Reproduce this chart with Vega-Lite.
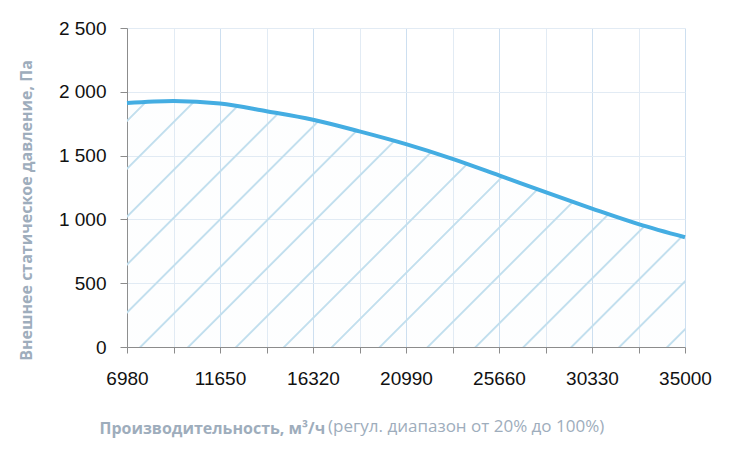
{
  "$schema": "https://vega.github.io/schema/vega-lite/v6.json",
  "autosize": {"type": "none"},
  "padding": {"left": 127, "top": 28, "right": 45, "bottom": 109},
  "width": 558,
  "height": 319,
  "background": "white",
  "config": {"view": {"stroke": null}, "font": "Liberation Sans"},
  "title": {
    "text": "(регул. диапазон от 20% до 100%)",
    "orient": "bottom",
    "anchor": "start",
    "frame": "group",
    "dx": 201,
    "offset": -4,
    "baseline": "alphabetic",
    "font": "Open Sans",
    "fontSize": 17,
    "fontWeight": "normal",
    "color": "#9eadbc"
  },
  "data": {
    "values": [
      {"flow": 6980, "pressure": 1912},
      {"flow": 9315, "pressure": 1928},
      {"flow": 11650, "pressure": 1908},
      {"flow": 13985, "pressure": 1848},
      {"flow": 16320, "pressure": 1781},
      {"flow": 18655, "pressure": 1690},
      {"flow": 20990, "pressure": 1590},
      {"flow": 23325, "pressure": 1475},
      {"flow": 25660, "pressure": 1345},
      {"flow": 27995, "pressure": 1213},
      {"flow": 30330, "pressure": 1085},
      {"flow": 32665, "pressure": 963},
      {"flow": 35000, "pressure": 860}
    ]
  },
  "encoding": {
    "x": {
      "field": "flow",
      "type": "quantitative",
      "scale": {"domain": [6980, 35000], "nice": false, "zero": false},
      "axis": {
        "values": [6980, 9315, 11650, 13985, 16320, 18655, 20990, 23325, 25660, 27995, 30330, 32665, 35000],
        "format": "d",
        "labelExpr": "(datum.value - 6980) % 4670 == 0 ? datum.label : ''",
        "labelFlush": false,
        "labelOverlap": false,
        "labelFont": "Liberation Sans",
        "labelFontSize": 19,
        "labelColor": "#111111",
        "labelPadding": 16,
        "tickSize": 6,
        "tickColor": "#8c8c8c",
        "domainColor": "#8c8c8c",
        "gridColor": {"condition": {"test": "(datum.value - 6980) % 4670 == 0", "value": "#cddff0"}, "value": "#e2ebf4"},
        "title": "Производительность, м³/ч",
        "titleFont": "Open Sans",
        "titleFontSize": 16,
        "titleFontWeight": "bold",
        "titleColor": "#9eadbc",
        "titleX": -28,
        "titleY": 86,
        "titleAlign": "left",
        "titleBaseline": "alphabetic"
      }
    },
    "y": {
      "field": "pressure",
      "type": "quantitative",
      "scale": {"domain": [0, 2500], "nice": false},
      "axis": {
        "values": [0, 500, 1000, 1500, 2000, 2500],
        "labelExpr": "replace(format(datum.value, ','), ',', ' ')",
        "labelFont": "Liberation Sans",
        "labelFontSize": 19,
        "labelColor": "#111111",
        "labelPadding": 14,
        "tickSize": 7,
        "tickColor": "#8c8c8c",
        "domainColor": "#8c8c8c",
        "gridColor": "#e2ebf4",
        "title": "Внешнее статическое давление, Па",
        "titleFont": "Open Sans",
        "titleFontSize": 16,
        "titleFontWeight": "bold",
        "titleColor": "#9eadbc",
        "titleX": -96,
        "titleY": 182,
        "titleAlign": "center",
        "titleBaseline": "alphabetic",
        "titleAngle": -90
      }
    }
  },
  "layer": [
    {
      "mark": {
        "type": "area",
        "interpolate": "monotone",
        "fill": {
          "gradient": "linear",
          "x1": 0, "y1": 0, "x2": 1.2064, "y2": 0.5319,
          "stops": [
            {"offset": 0.0223, "color": "rgba(194,223,238,0.03)"}, {"offset": 0.0239, "color": "#c2dfee"}, {"offset": 0.0257, "color": "#c2dfee"}, {"offset": 0.0273, "color": "rgba(194,223,238,0.03)"},
            {"offset": 0.0818, "color": "rgba(194,223,238,0.03)"}, {"offset": 0.0834, "color": "#c2dfee"}, {"offset": 0.0852, "color": "#c2dfee"}, {"offset": 0.0868, "color": "rgba(194,223,238,0.03)"},
            {"offset": 0.1414, "color": "rgba(194,223,238,0.03)"}, {"offset": 0.1430, "color": "#c2dfee"}, {"offset": 0.1448, "color": "#c2dfee"}, {"offset": 0.1464, "color": "rgba(194,223,238,0.03)"},
            {"offset": 0.2010, "color": "rgba(194,223,238,0.03)"}, {"offset": 0.2026, "color": "#c2dfee"}, {"offset": 0.2044, "color": "#c2dfee"}, {"offset": 0.2060, "color": "rgba(194,223,238,0.03)"},
            {"offset": 0.2606, "color": "rgba(194,223,238,0.03)"}, {"offset": 0.2622, "color": "#c2dfee"}, {"offset": 0.2640, "color": "#c2dfee"}, {"offset": 0.2656, "color": "rgba(194,223,238,0.03)"},
            {"offset": 0.3201, "color": "rgba(194,223,238,0.03)"}, {"offset": 0.3217, "color": "#c2dfee"}, {"offset": 0.3235, "color": "#c2dfee"}, {"offset": 0.3251, "color": "rgba(194,223,238,0.03)"},
            {"offset": 0.3797, "color": "rgba(194,223,238,0.03)"}, {"offset": 0.3813, "color": "#c2dfee"}, {"offset": 0.3831, "color": "#c2dfee"}, {"offset": 0.3847, "color": "rgba(194,223,238,0.03)"},
            {"offset": 0.4393, "color": "rgba(194,223,238,0.03)"}, {"offset": 0.4409, "color": "#c2dfee"}, {"offset": 0.4427, "color": "#c2dfee"}, {"offset": 0.4443, "color": "rgba(194,223,238,0.03)"},
            {"offset": 0.4989, "color": "rgba(194,223,238,0.03)"}, {"offset": 0.5005, "color": "#c2dfee"}, {"offset": 0.5023, "color": "#c2dfee"}, {"offset": 0.5039, "color": "rgba(194,223,238,0.03)"},
            {"offset": 0.5585, "color": "rgba(194,223,238,0.03)"}, {"offset": 0.5601, "color": "#c2dfee"}, {"offset": 0.5619, "color": "#c2dfee"}, {"offset": 0.5635, "color": "rgba(194,223,238,0.03)"},
            {"offset": 0.6180, "color": "rgba(194,223,238,0.03)"}, {"offset": 0.6196, "color": "#c2dfee"}, {"offset": 0.6214, "color": "#c2dfee"}, {"offset": 0.6230, "color": "rgba(194,223,238,0.03)"},
            {"offset": 0.6776, "color": "rgba(194,223,238,0.03)"}, {"offset": 0.6792, "color": "#c2dfee"}, {"offset": 0.6810, "color": "#c2dfee"}, {"offset": 0.6826, "color": "rgba(194,223,238,0.03)"},
            {"offset": 0.7372, "color": "rgba(194,223,238,0.03)"}, {"offset": 0.7388, "color": "#c2dfee"}, {"offset": 0.7406, "color": "#c2dfee"}, {"offset": 0.7422, "color": "rgba(194,223,238,0.03)"},
            {"offset": 0.7968, "color": "rgba(194,223,238,0.03)"}, {"offset": 0.7984, "color": "#c2dfee"}, {"offset": 0.8002, "color": "#c2dfee"}, {"offset": 0.8018, "color": "rgba(194,223,238,0.03)"},
            {"offset": 0.8563, "color": "rgba(194,223,238,0.03)"}, {"offset": 0.8579, "color": "#c2dfee"}, {"offset": 0.8597, "color": "#c2dfee"}, {"offset": 0.8613, "color": "rgba(194,223,238,0.03)"},
            {"offset": 0.9159, "color": "rgba(194,223,238,0.03)"}, {"offset": 0.9175, "color": "#c2dfee"}, {"offset": 0.9193, "color": "#c2dfee"}, {"offset": 0.9209, "color": "rgba(194,223,238,0.03)"},
            {"offset": 0.9755, "color": "rgba(194,223,238,0.03)"}, {"offset": 0.9771, "color": "#c2dfee"}, {"offset": 0.9789, "color": "#c2dfee"}, {"offset": 0.9805, "color": "rgba(194,223,238,0.03)"}
          ]
        }
      }
    },
    {
      "mark": {"type": "line", "interpolate": "monotone", "color": "#44ade2", "strokeWidth": 4}
    }
  ]
}
